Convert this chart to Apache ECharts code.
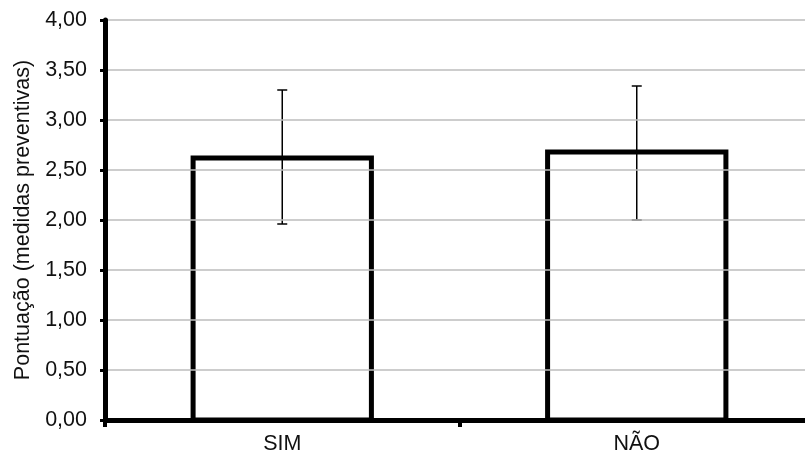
<!DOCTYPE html>
<html>
<head>
<meta charset="utf-8">
<script src="https://cdn.jsdelivr.net/npm/echarts@6/dist/echarts.min.js"></script>
<style>html,body{margin:0;padding:0;background:#fff}#c{width:805px;height:461px}</style>
</head>
<body>
<div id="c"></div>
<script>
const categories = ['SIM', 'NÃO'];
const means = [2.62, 2.68];
const errLow = [1.96, 2.00];
const errHigh = [3.30, 3.34];
const yTickLabels = ['0,00', '0,50', '1,00', '1,50', '2,00', '2,50', '3,00', '3,50', '4,00'];
const yTitle = 'Pontuação (medidas preventivas)';

const FONT = '"Liberation Sans", Arial, sans-serif';
const chart = echarts.init(document.getElementById('c'), null, {renderer: 'canvas'});

const barData = categories.map((c, i) => [i, means[i]]);
const errData = categories.map((c, i) => [i, errLow[i], errHigh[i]]);

chart.setOption({
  animation: false,
  backgroundColor: '#fff',
  grid: {left: 105, right: -9, top: 20, bottom: 41, containLabel: false, outerBoundsMode: 'none'},
  xAxis: {
    type: 'category',
    data: categories,
    z: 10,
    axisLine: {show: true, lineStyle: {color: '#000', width: 5}},
    axisTick: {show: true, length: 7, lineStyle: {color: '#000', width: 4}},
    axisLabel: {fontFamily: FONT, fontSize: 21.5, color: '#111', margin: 13},
    splitLine: {show: false}
  },
  yAxis: {
    type: 'value',
    min: 0, max: 4, interval: 0.5,
    z: 10,
    name: yTitle,
    nameLocation: 'middle',
    nameRotate: 90,
    nameGap: 71,
    nameTextStyle: {fontFamily: FONT, fontSize: 21.5, color: '#111'},
    axisLine: {show: true, lineStyle: {color: '#000', width: 5}},
    axisTick: {show: true, length: 5, lineStyle: {color: '#000', width: 3}},
    axisLabel: {
      fontFamily: FONT, fontSize: 21.5, color: '#111', margin: 18,
      formatter: v => yTickLabels[Math.round(v / 0.5)]
    },
    splitLine: {show: true, lineStyle: {color: '#bdbdbd', width: 1.5}}
  },
  series: [
    {
      type: 'custom',
      data: barData,
      z: 2,
      renderItem: function (params, api) {
        const x = api.value(0);
        const top = api.coord([x, api.value(1)]);
        const base = api.coord([x, 0]);
        const w = api.size([1, 0])[0] * 0.503;
        return {
          type: 'rect',
          shape: {x: top[0] - w / 2, y: top[1], width: w, height: base[1] - top[1]},
          style: {fill: '#fff', stroke: '#000', lineWidth: 5}
        };
      }
    },
    {
      type: 'custom',
      data: errData,
      z: 5,
      renderItem: function (params, api) {
        const x = api.value(0);
        const lo = api.coord([x, api.value(1)]);
        const hi = api.coord([x, api.value(2)]);
        const cap = 5;
        const style = {stroke: '#000', lineWidth: 1.5};
        return {
          type: 'group',
          children: [
            {type: 'line', shape: {x1: lo[0], y1: lo[1], x2: hi[0], y2: hi[1]}, style: style},
            {type: 'line', shape: {x1: hi[0] - cap, y1: hi[1], x2: hi[0] + cap, y2: hi[1]}, style: style},
            {type: 'line', shape: {x1: lo[0] - cap, y1: lo[1], x2: lo[0] + cap, y2: lo[1]}, style: style}
          ]
        };
      }
    }
  ]
});
</script>
</body>
</html>
